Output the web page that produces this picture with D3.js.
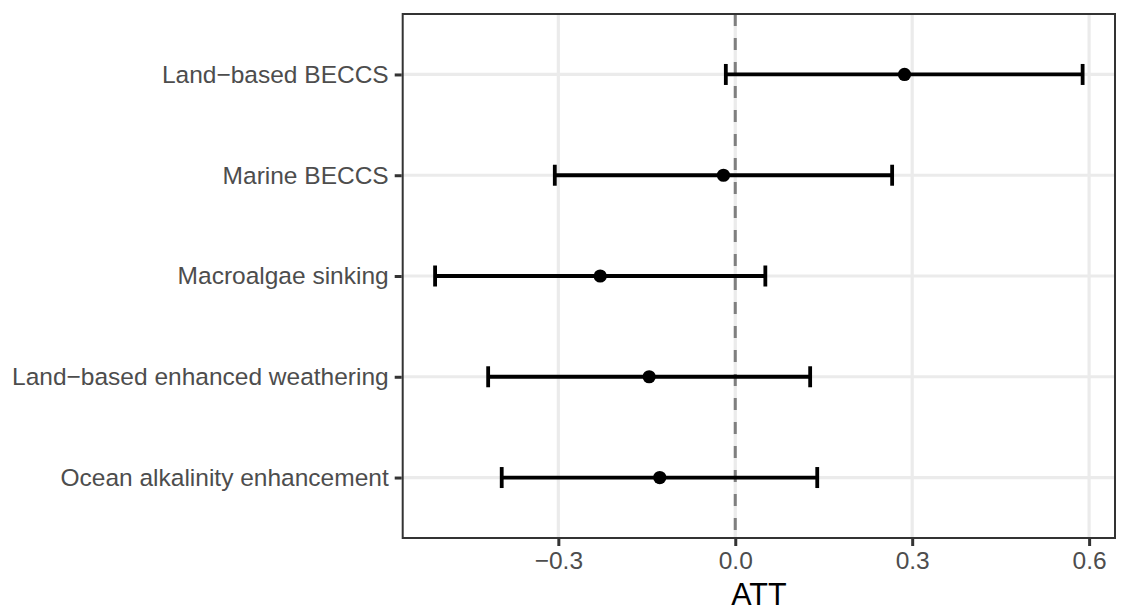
<!DOCTYPE html>
<html>
<head>
<meta charset="utf-8">
<script src="https://cdn.jsdelivr.net/npm/d3@7"></script>
<style>
  html, body { margin: 0; padding: 0; background: #fff; }
  svg { display: block; font-family: "Liberation Sans", Arial, Helvetica, sans-serif; }
</style>
</head>
<body>
<svg id="chart" width="1123" height="610"></svg>
<script>
// ---- data ----
const categories = [
  "Land\u2212based BECCS",
  "Marine BECCS",
  "Macroalgae sinking",
  "Land\u2212based enhanced weathering",
  "Ocean alkalinity enhancement"
];
const att   = [0.287, -0.020, -0.229, -0.146, -0.128];
const lower = [-0.016, -0.306, -0.509, -0.419, -0.396];
const upper = [0.589, 0.266, 0.051, 0.127, 0.139];
const xTicks = [-0.3, 0.0, 0.3, 0.6];
const xTickLabels = ["\u22120.3", "0.0", "0.3", "0.6"];
const xTitle = "ATT";

// ---- layout ----
const W = 1123, H = 610;
const panel = { left: 402.7, right: 1115, top: 14, bottom: 538 };

const svg = d3.select("#chart");

const lo = d3.min(lower), hi = d3.max(upper);
const pad = (hi - lo) * 0.05;
const x = d3.scaleLinear().domain([lo - pad, hi + pad]).range([panel.left, panel.right]);
const y = d3.scalePoint().domain(categories).range([panel.top, panel.bottom]).padding(0.6);

// panel background
svg.append("rect")
  .attr("x", panel.left).attr("y", panel.top)
  .attr("width", panel.right - panel.left).attr("height", panel.bottom - panel.top)
  .attr("fill", "#fff");

// grid lines
const grid = svg.append("g");
grid.selectAll("line.vg").data(xTicks).join("line")
  .attr("x1", d => x(d)).attr("x2", d => x(d))
  .attr("y1", panel.top).attr("y2", panel.bottom)
  .attr("stroke", "#EBEBEB").attr("stroke-width", 3.2);
grid.selectAll("line.hg").data(categories).join("line")
  .attr("y1", d => y(d)).attr("y2", d => y(d))
  .attr("x1", panel.left).attr("x2", panel.right)
  .attr("stroke", "#EBEBEB").attr("stroke-width", 3.2);

// zero reference line
svg.append("line")
  .attr("x1", x(0)).attr("x2", x(0))
  .attr("y1", panel.top).attr("y2", panel.bottom)
  .attr("stroke", "#7F7F7F").attr("stroke-width", 3)
  .attr("stroke-dasharray", "12,12");

// error bars
const rows = categories.map((c, i) => ({ c, att: att[i], lo: lower[i], hi: upper[i] }));
const eb = svg.append("g");
const capH = 10.5;
eb.selectAll("line.h").data(rows).join("line")
  .attr("x1", d => x(d.lo)).attr("x2", d => x(d.hi))
  .attr("y1", d => y(d.c)).attr("y2", d => y(d.c))
  .attr("stroke", "#000").attr("stroke-width", 3.8);
eb.selectAll("line.l").data(rows).join("line")
  .attr("x1", d => x(d.lo)).attr("x2", d => x(d.lo))
  .attr("y1", d => y(d.c) - capH).attr("y2", d => y(d.c) + capH)
  .attr("stroke", "#000").attr("stroke-width", 3.8);
eb.selectAll("line.r").data(rows).join("line")
  .attr("x1", d => x(d.hi)).attr("x2", d => x(d.hi))
  .attr("y1", d => y(d.c) - capH).attr("y2", d => y(d.c) + capH)
  .attr("stroke", "#000").attr("stroke-width", 3.8);
eb.selectAll("circle").data(rows).join("circle")
  .attr("cx", d => x(d.att)).attr("cy", d => y(d.c))
  .attr("r", 6.6).attr("fill", "#000");

// panel border
svg.append("rect")
  .attr("x", panel.left).attr("y", panel.top)
  .attr("width", panel.right - panel.left).attr("height", panel.bottom - panel.top)
  .attr("fill", "none").attr("stroke", "#333333").attr("stroke-width", 2);

// x axis
const xAxis = d3.axisBottom(x).tickValues(xTicks)
  .tickFormat((d, i) => xTickLabels[i]).tickSizeInner(7).tickSizeOuter(0).tickPadding(6);
const gx = svg.append("g").attr("transform", `translate(0,${panel.bottom + 1})`).call(xAxis);
gx.select(".domain").remove();
gx.selectAll(".tick line").attr("stroke", "#333333").attr("stroke-width", 3);
gx.selectAll(".tick text").attr("fill", "#4D4D4D").attr("font-size", 24.5).attr("font-family", null);

// y axis
const yAxis = d3.axisLeft(y).tickSizeInner(7).tickSizeOuter(0).tickPadding(6);
const gy = svg.append("g").attr("transform", `translate(${panel.left - 1},0)`).call(yAxis);
gy.select(".domain").remove();
gy.selectAll(".tick line").attr("stroke", "#333333").attr("stroke-width", 3);
gy.selectAll(".tick text").attr("fill", "#4D4D4D").attr("font-size", 24.5).attr("font-family", null);

// x title
svg.append("text")
  .attr("x", (panel.left + panel.right) / 2).attr("y", 605)
  .attr("text-anchor", "middle").attr("font-size", 30.5).attr("fill", "#000")
  .text(xTitle);
</script>
</body>
</html>
